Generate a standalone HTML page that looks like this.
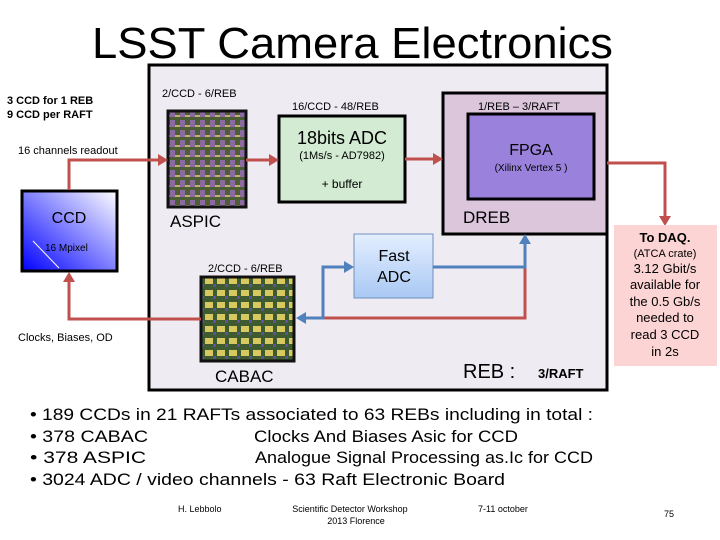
<!DOCTYPE html>
<html><head><style>
body{margin:0;background:#fff;}
svg{display:block;font-family:"Liberation Sans",sans-serif;}
</style></head><body>
<svg width="720" height="540" viewBox="0 0 720 540">
<defs>
<linearGradient id="ccd" x1="0" y1="1" x2="1" y2="0"><stop offset="0" stop-color="#0000ff"/><stop offset="1" stop-color="#ffffff"/></linearGradient>
<linearGradient id="fadc" x1="0" y1="0" x2="0" y2="1"><stop offset="0" stop-color="#e4efff"/><stop offset="1" stop-color="#a9c8f4"/></linearGradient>
<pattern id="chip" width="10" height="10" patternUnits="userSpaceOnUse"><rect width="10" height="10" fill="#4e5e34"/><rect width="5" height="7" fill="#8a6aa0"/><rect x="5" y="5" width="5" height="2" fill="#c0b070"/></pattern>
<pattern id="chip2" width="12" height="12" patternUnits="userSpaceOnUse"><rect width="12" height="12" fill="#3e5a30"/><rect x="1" y="2" width="8" height="6" fill="#d8c860"/><rect x="9" y="8" width="3" height="3" fill="#6050a0"/></pattern>
</defs>
<text x="92" y="58" font-size="44" textLength="521" lengthAdjust="spacingAndGlyphs">LSST Camera Electronics</text>
<text x="7" y="104" font-size="11" font-weight="bold">3 CCD for 1 REB</text>
<text x="7" y="118" font-size="11" font-weight="bold">9 CCD per RAFT</text>
<text x="18" y="154" font-size="11">16 channels  readout</text>
<rect x="149" y="65" width="458" height="325" fill="#efebf2" stroke="#000" stroke-width="3"/>
<text x="162" y="97" font-size="11">2/CCD - 6/REB</text>
<rect x="168" y="111" width="78" height="96" fill="url(#chip)" stroke="#111" stroke-width="3"/>
<text x="170" y="227" font-size="17">ASPIC</text>
<text x="292" y="110" font-size="11">16/CCD - 48/REB</text>
<rect x="279" y="116" width="126" height="86" fill="#d2ebd2" stroke="#000" stroke-width="3"/>
<text x="342" y="144" font-size="18" text-anchor="middle">18bits ADC</text>
<text x="342" y="159" font-size="11" text-anchor="middle">(1Ms/s - AD7982)</text>
<text x="342" y="188" font-size="12" text-anchor="middle">+ buffer</text>
<rect x="443" y="93" width="164" height="141" fill="#dcc6dc" stroke="#000" stroke-width="3"/>
<text x="478" y="110" font-size="11">1/REB – 3/RAFT</text>
<rect x="468" y="114" width="126" height="85" fill="#9a82dc" stroke="#000" stroke-width="3"/>
<text x="531" y="155" font-size="16" text-anchor="middle">FPGA</text>
<text x="531" y="171" font-size="10" text-anchor="middle">(Xilinx Vertex 5 )</text>
<text x="463" y="223" font-size="17">DREB</text>
<rect x="354" y="234" width="79" height="64" fill="url(#fadc)" stroke="#6f8fc0" stroke-width="1"/>
<text x="394" y="261" font-size="16" text-anchor="middle">Fast</text>
<text x="394" y="282" font-size="16" text-anchor="middle">ADC</text>
<text x="208" y="272" font-size="11">2/CCD - 6/REB</text>
<rect x="201" y="277" width="93" height="84" fill="url(#chip2)" stroke="#111" stroke-width="3"/>
<text x="215" y="382" font-size="17">CABAC</text>
<text x="463" y="378" font-size="20">REB :</text>
<text x="538" y="378" font-size="13" font-weight="bold">3/RAFT</text>
<rect x="22" y="191" width="95" height="80" fill="url(#ccd)" stroke="#000" stroke-width="3"/>
<text x="69" y="223" font-size="16" text-anchor="middle">CCD</text>
<text x="45" y="251" font-size="10">16 Mpixel</text>
<line x1="33" y1="241" x2="59" y2="268" stroke="#fff" stroke-width="1"/>
<g fill="none" stroke="#c0504d" stroke-width="3">
<polyline points="69,190 69,160 162,160"/>
<polyline points="246,160 275,160"/>
<polyline points="405,159 440,159"/>
<polyline points="607,163 665,163 665,222"/>
<polyline points="69,276 69,319 201,319"/>
<polyline points="300,318 525,318 525,267"/>
</g>
<g fill="#c0504d">
<polygon points="168,160 158,154 158,166"/>
<polygon points="279,160 269,154 269,166"/>
<polygon points="443,159 433,153 433,165"/>
<polygon points="665,226 659,216 671,216"/>
<polygon points="69,272 63,282 75,282"/>
</g>
<g fill="none" stroke="#4f81bd" stroke-width="3">
<polyline points="302,318 323,318 323,267 348,267"/>
<polyline points="433,267 525,267 525,240"/>
</g>
<g fill="#4f81bd">
<polygon points="296,318 306,312 306,324"/>
<polygon points="354,267 344,261 344,273"/>
<polygon points="525,234 519,244 531,244"/>
</g>
<text x="18" y="341" font-size="11">Clocks, Biases, OD</text>
<rect x="614" y="225" width="103" height="141" fill="#fcd4d4"/>
<g font-size="13" text-anchor="middle">
<text x="665" y="242" font-weight="bold">To DAQ.</text>
<text x="665" y="257" font-size="11">(ATCA crate)</text>
<text x="665" y="273">3.12 Gbit/s</text>
<text x="665" y="289">available for</text>
<text x="665" y="306">the 0.5 Gb/s</text>
<text x="665" y="322">needed to</text>
<text x="665" y="339">read 3 CCD</text>
<text x="665" y="356">in 2s</text>
</g>
<g font-size="17">
<text x="30" y="420" textLength="563" lengthAdjust="spacingAndGlyphs">• 189 CCDs in  21 RAFTs associated to 63 REBs including in total  :</text>
<text x="30" y="442" textLength="118" lengthAdjust="spacingAndGlyphs">• 378 CABAC</text><text x="254" y="442" textLength="264" lengthAdjust="spacingAndGlyphs">Clocks And Biases Asic for CCD</text>
<text x="30" y="463" textLength="116" lengthAdjust="spacingAndGlyphs">• 378 ASPIC</text><text x="255" y="463" textLength="338" lengthAdjust="spacingAndGlyphs">Analogue Signal Processing as.Ic for CCD</text>
<text x="30" y="485" textLength="475" lengthAdjust="spacingAndGlyphs">• 3024 ADC / video channels - 63 Raft Electronic Board</text>
</g>
<g font-size="9">
<text x="178" y="512">H. Lebbolo</text>
<text x="350" y="512" text-anchor="middle">Scientific Detector Workshop</text>
<text x="356" y="524" text-anchor="middle">2013 Florence</text>
<text x="478" y="512">7-11 october</text>
<text x="664" y="517">75</text>
</g>
</svg>
</body></html>
